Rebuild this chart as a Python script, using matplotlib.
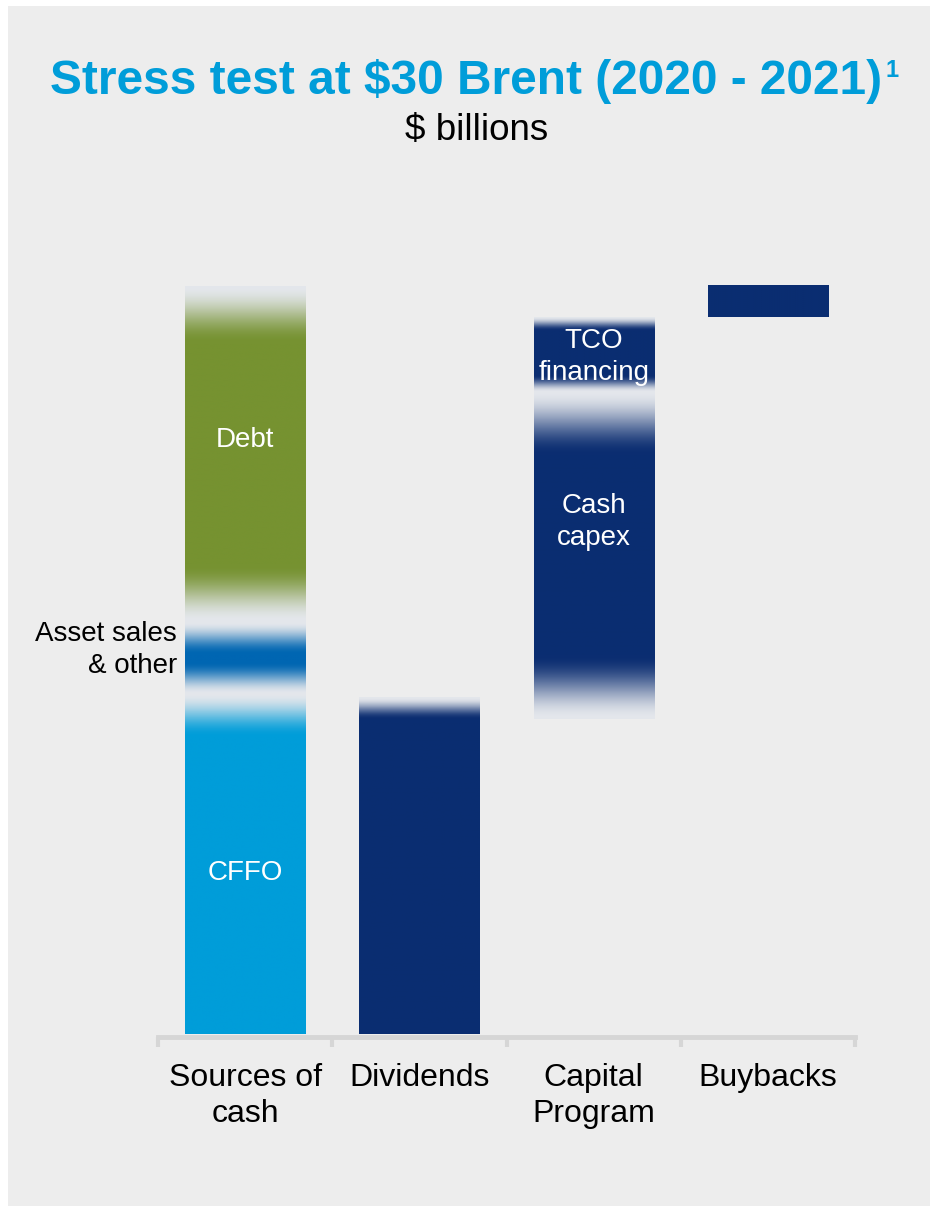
import numpy as np
import matplotlib
matplotlib.use("Agg")
import matplotlib.pyplot as plt
from matplotlib.colors import to_rgb
from matplotlib.patches import Rectangle

plt.rcParams['font.family'] = ['Liberation Sans', 'DejaVu Sans']

# categories on the x axis
categories = ["Sources of\ncash", "Dividends", "Capital\nProgram", "Buybacks"]

# $ billions
sources_labels = ["CFFO", "Asset sales\n& other", "Debt"]
sources_values = [20.5, 4.3, 20.2]
dividends_value = 20.3
capital_base = 19.0
capital_labels = ["Cash\ncapex", "TCO\nfinancing"]
capital_values = [19.7, 4.5]
buybacks_value = 1.9

# look of each segment: colour, fade at bottom, fade at top (in data units)
light = "#E4E7EC"
sources_style = [("#009DD9", 0.0, 2.6), ("#0066B2", 1.9, 1.9), ("#769231", 3.4, 3.4)]
dividends_style = ("#0B2D71", 0.0, 1.3)
capital_style = [("#0B2D71", 3.8, 3.8), ("#0B2D71", 1.0, 0.8)]
buybacks_style = ("#0B2D71", 0.0, 0.0)

W = 0.69


def seg(ax, x, bottom, height, color, fb, ft):
    n = 400
    y = np.linspace(bottom, bottom + height, n)
    w = np.ones(n)
    if fb > 0:
        w = np.minimum(w, (y - bottom) / fb)
    if ft > 0:
        w = np.minimum(w, (bottom + height - y) / ft)
    w = np.clip(w, 0, 1)
    w = w * w * (3 - 2 * w)
    c = np.array(to_rgb(color))
    l = np.array(to_rgb(light))
    img = l[None, :] + (c - l)[None, :] * w[:, None]
    img = img[:, None, :].repeat(2, axis=1)
    ax.imshow(img, extent=[x - W / 2, x + W / 2, bottom, bottom + height],
              origin="lower", aspect="auto", interpolation="bilinear", zorder=2)


fig = plt.figure(figsize=(9.38, 12.09), dpi=100)
fig.add_artist(Rectangle((8 / 938, 1 - 1206 / 1209), 922 / 938, 1200 / 1209,
                         transform=fig.transFigure, facecolor="#EDEDED",
                         edgecolor="none", zorder=0))

ax = fig.add_axes([158 / 938, 1 - 1034 / 1209, 697 / 938, 830 / 1209])
ax.set_facecolor("none")

# sources of cash
b = 0
for v, st in zip(sources_values, sources_style):
    seg(ax, 0, b, v, *st)
    b += v
# dividends
seg(ax, 1, 0, dividends_value, *dividends_style)
# capital program
b = capital_base
for v, st in zip(capital_values, capital_style):
    seg(ax, 2, b, v, *st)
    b += v
# buybacks
seg(ax, 3, b, buybacks_value, *buybacks_style)

ax.set_xlim(-0.5, 3.5)
ax.set_ylim(0, 50)

# labels inside / beside bars
ax.text(0, sources_values[0] * 0.473, sources_labels[0], color="white", fontsize=20,
        ha="center", va="center", zorder=3)
ax.text(-0.39, sources_values[0] + sources_values[1] / 2 + 0.5, sources_labels[1],
        color="black", fontsize=20, ha="right", va="center", linespacing=1.3)
ax.text(0, sum(sources_values[:2]) + sources_values[2] * 0.545, sources_labels[2],
        color="white", fontsize=20, ha="center", va="center", zorder=3)
ax.text(2, capital_base + capital_values[0] * 0.6, capital_labels[0], color="white",
        fontsize=20, ha="center", va="center", zorder=3, linespacing=1.3)
ax.text(2, capital_base + capital_values[0] + capital_values[1] * 0.5 - 0.15,
        capital_labels[1], color="white", fontsize=20, ha="center", va="center",
        zorder=3, linespacing=1.3)

for s in ["top", "left", "right"]:
    ax.spines[s].set_visible(False)
ax.spines["bottom"].set_position(("outward", 2))
ax.spines["bottom"].set_color("#D6D6D6")
ax.spines["bottom"].set_linewidth(3.5)
ax.set_yticks([])
ax.set_xticks([-0.5, 0.5, 1.5, 2.5, 3.5])
ax.set_xticklabels([])
ax.tick_params(axis="x", which="major", length=7, width=3, color="#D6D6D6")
ax.set_xticks(range(4), minor=True)
ax.set_xticklabels(categories, minor=True, fontsize=23, linespacing=1.25)
ax.tick_params(axis="x", which="minor", length=0, pad=19)

t = fig.text(466 / 938, 1 - 94 / 1209, "Stress test at $30 Brent (2020 - 2021)",
             color="#009DD9", fontsize=34.5, fontweight="bold",
             ha="center", va="baseline")
fig.canvas.draw()
bb = t.get_window_extent()
fig.text((bb.x1 + 3) / 938, 1 - 77 / 1209, "1", color="#009DD9", fontsize=17,
         fontweight="bold", ha="left", va="baseline")
fig.text(477 / 938, 1 - 140 / 1209, "$ billions", color="black", fontsize=26.5,
         ha="center", va="baseline")

fig.savefig("out.png", dpi=100)
